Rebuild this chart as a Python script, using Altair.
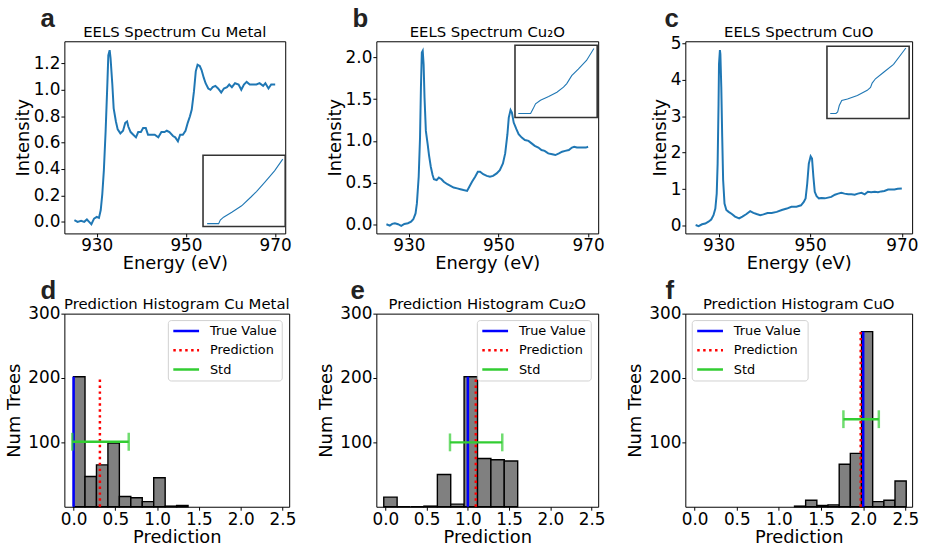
import altair as alt
import pandas as pd

# ---------------- EELS spectra ----------------
energy_cu = [925.0, 925.7, 926.5, 927.2, 927.8, 928.3, 928.8, 929.4, 930.0, 930.5,
             930.9, 931.25, 931.6, 932.0, 932.4, 932.6, 932.9, 933.1, 933.5, 933.8,
             934.3, 934.7, 935.3, 935.9, 936.4, 936.8, 937.1, 937.6, 938.2, 938.8,
             939.3, 939.9, 940.4, 941.0, 941.5, 942.3, 943.0, 943.8, 944.5, 945.2,
             945.7, 946.3, 947.1, 947.6, 948.2, 948.7, 949.3, 949.9, 950.4, 950.9,
             951.3, 951.8, 952.2, 952.6, 953.1, 953.5, 954.0, 954.4, 955.0, 955.5,
             956.0, 956.6, 957.2, 957.9, 958.5, 959.2, 959.7, 960.3, 961.0, 961.8,
             962.4, 963.0, 963.6, 964.3, 965.1, 965.8, 966.5, 967.3, 967.8, 968.5,
             969.1, 969.7, 970.0]
inten_cu = [0.013, 0.0, 0.008, 0.0, 0.018, 0.0, -0.018, 0.025, 0.038, 0.03,
            0.09, 0.21, 0.39, 0.69, 1.06, 1.26, 1.30, 1.24, 1.04, 0.86,
            0.76, 0.70, 0.67, 0.69, 0.75, 0.76, 0.72, 0.68, 0.66, 0.64,
            0.68, 0.68, 0.71, 0.71, 0.66, 0.66, 0.66, 0.64, 0.68, 0.68,
            0.69, 0.68, 0.65, 0.64, 0.61, 0.66, 0.66, 0.69, 0.75, 0.80,
            0.85, 0.99, 1.14, 1.19, 1.18, 1.15, 1.09, 1.05, 1.01, 1.00,
            1.02, 1.03, 1.01, 0.98, 1.01, 1.02, 1.04, 1.02, 1.05, 1.04,
            1.00, 1.04, 1.06, 1.04, 1.04, 1.04, 1.05, 1.03, 1.05, 1.01,
            1.04, 1.04, 1.04]

energy_cu2o = [925.0, 925.75, 926.3, 926.9, 927.6, 928.3, 929.0, 929.8, 930.5, 931.0,
               931.5, 931.8, 932.2, 932.5, 932.7, 932.9, 933.1, 933.3, 933.5, 933.8,
               934.2, 934.5, 934.9, 935.3, 935.6, 936.2, 936.7, 937.3, 937.8, 938.6,
               939.3, 940.0, 940.8, 941.5, 942.2, 943.0, 943.5, 944.1, 944.8, 945.4,
               945.9, 946.6, 947.4, 948.1, 948.8, 949.6, 950.3, 951.0, 951.5, 952.0,
               952.3, 952.7, 953.0, 953.4, 954.0, 954.5, 955.2, 955.9, 956.7, 957.4,
               958.1, 958.9, 959.6, 960.3, 961.1, 962.0, 962.7, 963.5, 964.2, 964.9,
               965.7, 966.4, 966.9, 967.5, 968.2, 969.0, 969.5, 970.0]
inten_cu2o = [0.0, -0.016, 0.004, 0.012, 0.0, -0.02, 0.004, 0.012, 0.03, 0.06,
              0.13, 0.25, 0.57, 1.04, 1.64, 2.06, 2.08, 1.92, 1.52, 1.12,
              0.96, 0.83, 0.69, 0.59, 0.54, 0.53, 0.56, 0.54, 0.51, 0.48,
              0.46, 0.44, 0.43, 0.42, 0.41, 0.40, 0.45, 0.51, 0.57, 0.63,
              0.63, 0.60, 0.58, 0.57, 0.58, 0.61, 0.65, 0.73, 0.85, 1.08,
              1.28, 1.37, 1.34, 1.22, 1.14, 1.08, 1.04, 1.01, 1.00, 0.97,
              0.94, 0.92, 0.89, 0.88, 0.85, 0.84, 0.83, 0.85, 0.87, 0.88,
              0.89, 0.92, 0.93, 0.92, 0.92, 0.92, 0.92, 0.93]

energy_cuo = [925.0, 925.65, 926.4, 927.1, 927.8, 928.4, 928.9, 929.3, 929.6, 929.8,
              930.0, 930.1, 930.3, 930.4, 930.6, 930.8, 931.0, 931.3, 931.7, 932.2,
              932.9, 933.6, 934.5, 935.2, 936.1, 936.9, 937.6, 938.3, 939.1, 939.8,
              940.7, 941.6, 942.7, 943.8, 944.9, 945.9, 947.0, 948.0, 948.6, 949.0,
              949.35, 949.7, 950.1, 950.4, 950.7, 951.0, 951.4, 951.9, 952.5, 953.2,
              953.9, 954.6, 955.4, 956.1, 956.8, 957.5, 958.3, 959.0, 959.7, 960.4,
              961.2, 961.9, 962.6, 963.3, 964.1, 964.8, 965.5, 966.2, 967.0, 967.7,
              968.4, 969.1, 970.0]
inten_cuo = [0.02, -0.01, 0.04, 0.06, 0.11, 0.17, 0.29, 0.47, 0.88, 1.70,
             3.34, 4.43, 4.81, 4.70, 3.79, 2.43, 1.25, 0.61, 0.43, 0.38,
             0.32, 0.25, 0.20, 0.25, 0.32, 0.40, 0.35, 0.32, 0.29, 0.31,
             0.35, 0.35, 0.38, 0.43, 0.47, 0.52, 0.52, 0.56, 0.65, 0.75,
             1.15, 1.70, 1.90, 1.84, 1.34, 0.93, 0.81, 0.75, 0.76, 0.75,
             0.77, 0.79, 0.85, 0.88, 0.90, 0.88, 0.86, 0.86, 0.85, 0.88,
             0.90, 0.86, 0.93, 0.92, 0.93, 0.92, 0.94, 0.95, 0.99, 0.99,
             0.99, 1.01, 1.02]

# inset curves (normalised inset coordinates)
inset_cu_x = [0.05, 0.19, 0.21, 0.25, 0.35, 0.47, 0.58, 0.65, 0.75, 0.87, 0.97]
inset_cu_y = [0.04, 0.04, 0.09, 0.13, 0.20, 0.29, 0.41, 0.49, 0.62, 0.78, 0.945]
inset_cu2o_x = [0.04, 0.19, 0.22, 0.25, 0.31, 0.41, 0.51, 0.59, 0.63, 0.69, 0.77, 0.87, 0.96]
inset_cu2o_y = [0.055, 0.055, 0.12, 0.19, 0.24, 0.29, 0.35, 0.42, 0.47, 0.58, 0.67, 0.79, 0.955]
inset_cuo_x = [0.04, 0.11, 0.13, 0.15, 0.18, 0.25, 0.37, 0.49, 0.53, 0.55, 0.59, 0.69, 0.81, 0.96]
inset_cuo_y = [0.07, 0.07, 0.09, 0.18, 0.25, 0.27, 0.32, 0.39, 0.43, 0.49, 0.55, 0.64, 0.75, 0.975]

# ---------------- prediction histograms ----------------
edges_cu = [0.0, 0.137, 0.274, 0.411, 0.548, 0.685, 0.822, 0.959, 1.096, 1.233, 1.37]
counts_cu = [202, 47, 65, 99, 16, 14, 8, 45, 1, 2]
edges_cu2o = [-0.02, 0.142, 0.305, 0.467, 0.63, 0.792, 0.954, 1.117, 1.279, 1.441, 1.604]
counts_cu2o = [15, 0, 0, 1, 50, 4, 202, 75, 73, 71]
edges_cuo = [1.185, 1.317, 1.45, 1.582, 1.715, 1.847, 1.98, 2.112, 2.245, 2.377, 2.51]
counts_cuo = [1, 10, 2, 3, 66, 83, 272, 8, 10, 40]

true_vals = [0.0, 1.0, 2.0]
pred_vals = [0.315, 1.096, 1.97]
line_tops = [202, 202, 272]
std_lo = [-0.015, 0.783, 1.765]
std_hi = [0.66, 1.417, 2.185]
std_level = [101, 100, 136]

series_names = ["True Value", "Prediction", "Std"]
series_colors = ["blue", "red", "limegreen"]
series_dash = [[1, 0], [2.5, 3.5], [1, 0]]

BLUE = "#1f77b4"
FONT = "DejaVu Sans"
ONE = pd.DataFrame({"k": [0]})


def title_layer(text, w):
    return alt.Chart(pd.DataFrame({"t": [text]})).mark_text(
        font=FONT, fontSize=15, color="black", align="center", baseline="alphabetic"
    ).encode(text="t:N", x=alt.value(w / 2), y=alt.value(-4.5))


def letter_layer(letter, dx, dy):
    return alt.Chart(pd.DataFrame({"t": [letter]})).mark_text(
        font="Liberation Sans", fontSize=26, fontWeight="bold", color="#222",
        align="left", baseline="alphabetic"
    ).encode(text="t:N", x=alt.value(dx), y=alt.value(dy))


def spectrum_panel(energy, inten, ydom, yticks, yfmt, title, letter, ldx,
                   ix, iy, box, w, h):
    df = pd.DataFrame({"energy": energy, "intensity": inten})
    main = alt.Chart(df).mark_line(color=BLUE, strokeWidth=2).encode(
        x=alt.X("energy:Q",
                scale=alt.Scale(domain=[922.75, 972.25], nice=False, zero=False),
                axis=alt.Axis(values=[930, 950, 970], format="d", title="Energy (eV)")),
        y=alt.Y("intensity:Q",
                scale=alt.Scale(domain=ydom, nice=False, zero=False),
                axis=alt.Axis(values=yticks, format=yfmt, title="Intensity")),
    )
    x0, x1, y0, y1 = box
    frame = alt.Chart(ONE).mark_rect(
        fill="white", stroke="#333", strokeWidth=1.6
    ).encode(x=alt.value(x0), x2=alt.value(x1), y=alt.value(y0), y2=alt.value(y1))
    dfi = pd.DataFrame({"u": ix, "v": iy})
    inset = alt.Chart(dfi).mark_line(color=BLUE, strokeWidth=1.1).encode(
        x=alt.X("u:Q", scale=alt.Scale(domain=[0, 1], range=[x0, x1], nice=False, zero=False), axis=None),
        y=alt.Y("v:Q", scale=alt.Scale(domain=[0, 1], range=[y1, y0], nice=False, zero=False), axis=None),
    )
    return alt.layer(main, frame, inset, title_layer(title, w),
                     letter_layer(letter, ldx, -14)).resolve_scale(
        x="independent", y="independent"
    ).properties(width=w, height=h)


def legend_layers(bx, bw):
    layers = [alt.Chart(ONE).mark_rect(
        fill="white", stroke="#cccccc", strokeWidth=1, cornerRadius=3, opacity=0.9
    ).encode(x=alt.value(bx), x2=alt.value(bx + bw), y=alt.value(7), y2=alt.value(68))]
    for k, name in enumerate(series_names):
        ry = 17.5 + 19.5 * k
        layers.append(alt.Chart(ONE).mark_rule(
            color=series_colors[k], strokeWidth=2.5, strokeDash=series_dash[k]
        ).encode(x=alt.value(bx + 5), x2=alt.value(bx + 31), y=alt.value(ry)))
        layers.append(alt.Chart(pd.DataFrame({"label": [name]})).mark_text(
            font=FONT, fontSize=13, color="black", align="left", baseline="middle"
        ).encode(text="label:N", x=alt.value(bx + 42), y=alt.value(ry)))
    return layers


def hist_panel(i, edges, counts, title, letter, ldx, lbx, lbw, w, h):
    xs = alt.Scale(domain=[-0.11, 2.58], nice=False, zero=False)
    ys = alt.Scale(domain=[0, 300], nice=False)
    xax = alt.Axis(values=[0, 0.5, 1.0, 1.5, 2.0, 2.5], format=".1f", title="Prediction",
                   titlePadding=2)
    yax = alt.Axis(values=[100, 200, 300], format="d", title="Num Trees", titlePadding=4)
    dfb = pd.DataFrame({"lo": edges[:-1], "hi": edges[1:], "count": counts,
                        "base": [0] * len(counts)})
    bars = alt.Chart(dfb).mark_rect(color="#808080", stroke="black", strokeWidth=1.4).encode(
        x=alt.X("lo:Q", scale=xs, axis=xax), x2="hi:Q",
        y=alt.Y("count:Q", scale=ys, axis=yax), y2="base:Q",
    )
    df_true = pd.DataFrame({"x": [true_vals[i]], "base": [0], "top": [line_tops[i]]})
    df_pred = pd.DataFrame({"x": [pred_vals[i]], "base": [0], "top": [line_tops[i]]})
    vtrue = alt.Chart(df_true).mark_rule(strokeWidth=2.5, color=series_colors[0]).encode(
        x=alt.X("x:Q", scale=xs), y=alt.Y("base:Q", scale=ys), y2="top:Q"
    )
    vpred = alt.Chart(df_pred).mark_rule(strokeWidth=2.5, color=series_colors[1],
                                         strokeDash=series_dash[1]).encode(
        x=alt.X("x:Q", scale=xs), y=alt.Y("base:Q", scale=ys), y2="top:Q"
    )
    dfs = pd.DataFrame({"lo": [std_lo[i]], "hi": [std_hi[i]], "y": [std_level[i]]})
    srule = alt.Chart(dfs).mark_rule(strokeWidth=2.5, color=series_colors[2]).encode(
        x=alt.X("lo:Q", scale=xs), x2="hi:Q", y=alt.Y("y:Q", scale=ys)
    )
    dfc = pd.DataFrame({"x": [std_lo[i], std_hi[i]], "y": [std_level[i], std_level[i]]})
    caps = alt.Chart(dfc).mark_tick(orient="vertical", size=18, thickness=2.5,
                                    color=series_colors[2]).encode(
        x=alt.X("x:Q", scale=xs), y=alt.Y("y:Q", scale=ys)
    )
    layers = ([bars, vtrue, vpred, srule, caps] + legend_layers(lbx, lbw)
              + [title_layer(title, w), letter_layer(letter, ldx, -15)])
    return alt.layer(*layers).properties(width=w, height=h)


pa = spectrum_panel(energy_cu, inten_cu, [-0.0875, 1.3675], [0, 0.2, 0.4, 0.6, 0.8, 1.0, 1.2], ".1f",
                    "EELS Spectrum Cu Metal", "a", -24, inset_cu_x, inset_cu_y, (140, 223, 115, 187), 223, 194)
pb = spectrum_panel(energy_cu2o, inten_cu2o, [-0.11, 2.195], [0, 0.5, 1.0, 1.5, 2.0], ".1f",
                    "EELS Spectrum Cu\u2082O", "b", -24, inset_cu2o_x, inset_cu2o_y, (140, 223, 4, 77), 224, 194)
pc = spectrum_panel(energy_cuo, inten_cuo, [-0.21, 5.05], [0, 1, 2, 3, 4, 5], "d",
                    "EELS Spectrum CuO", "c", -21, inset_cuo_x, inset_cuo_y, (143, 226, 5, 78), 229, 194)

pd_ = hist_panel(0, edges_cu, counts_cu, "Prediction Histogram Cu Metal", "d", -24, 105, 115, 227, 195)
pe = hist_panel(1, edges_cu2o, counts_cu2o, "Prediction Histogram Cu\u2082O", "e", -26, 102, 115, 224, 195)
pf = hist_panel(2, edges_cuo, counts_cuo, "Prediction Histogram CuO", "f", -20, 7, 117, 229, 195)

chart = alt.concat(pa, pb, pc, pd_, pe, pf, columns=3,
                   spacing={"row": 81, "column": 88}, bounds="flush")

chart = chart.configure(
    font=FONT, padding={"left": 5, "top": 3, "right": 5, "bottom": 2}
).configure_view(
    stroke="black", strokeWidth=1
).configure_axis(
    grid=False, domain=False, labelFont=FONT, labelFontSize=17, labelColor="black",
    titleFont=FONT, titleFontSize=18, titleFontWeight="normal", titleColor="black",
    tickColor="black", tickSize=3.5, tickWidth=1, labelPadding=1, titlePadding=1
)

chart.save("out.html", embed_options={"renderer": "svg", "actions": False})
